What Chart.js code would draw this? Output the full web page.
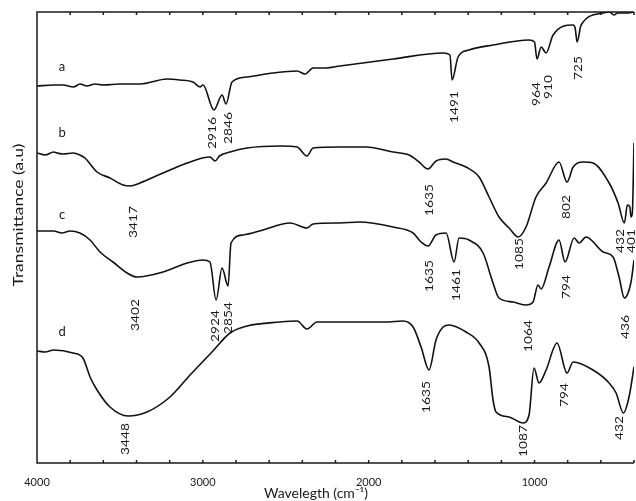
<!DOCTYPE html>
<html>
<head>
<meta charset="utf-8">
<script src="https://cdn.jsdelivr.net/npm/chart.js@4.4.1/dist/chart.umd.min.js"></script>
<style>
  html, body { margin: 0; padding: 0; background: #fff; }
  #wrap { width: 636px; height: 501px; }
</style>
</head>
<body>
<div id="wrap"><canvas id="ftirChart" width="636" height="501"></canvas></div>
<script>
// wavenumbers (cm-1) and transmittance (a.u.), curves a-d offset
const aWn = [4000, 3900, 3843, 3780, 3740, 3700, 3650, 3600, 3500, 3379, 3216, 3138, 3059, 3017, 2999, 2933, 2884, 2860, 2824, 2733, 2577, 2432, 2384, 2335, 2257, 2173, 1853, 1551, 1510, 1497, 1461, 1395, 1250, 1033, 1000, 985, 960, 930, 888, 767, 755, 743, 719, 586, 550, 520, 500, 448, 400];
const aT  = [377, 378, 378, 376, 379, 377, 379, 378, 379, 379, 384, 383, 381, 376, 378, 353, 368, 359, 381, 386, 390, 392, 389, 395, 395, 397, 404, 410, 408, 383, 406, 413, 418, 423, 421, 404, 416, 410, 428, 438, 435, 421, 438, 450, 451, 448, 450, 450, 451];

const bWn = [4000, 3950, 3900, 3879, 3840, 3783, 3741, 3711, 3638, 3560, 3481, 3439, 3379, 3240, 3095, 2957, 2926, 2900, 2836, 2733, 2534, 2432, 2372, 2335, 2173, 2016, 1853, 1756, 1696, 1642, 1594, 1533, 1491, 1413, 1334, 1274, 1214, 1153, 1099, 1051, 991, 930, 852, 804, 767, 707, 647, 550, 496, 458, 440, 425, 418, 410, 400];
const bT  = [310, 308, 311, 310, 309, 310, 308, 305, 291, 285, 278, 277, 280, 290, 300, 306, 302, 307, 311, 315, 317, 316, 307, 315, 316, 316, 311, 308, 301, 294, 302, 304, 301, 296, 286, 266, 246, 235, 226, 236, 266, 280, 301, 281, 296, 301, 300, 280, 260, 240, 258, 256, 246, 250, 320];

const cWn = [4000, 3900, 3850, 3801, 3741, 3680, 3620, 3542, 3457, 3397, 3240, 3095, 2999, 2957, 2920, 2884, 2848, 2830, 2758, 2637, 2474, 2372, 2335, 2173, 2058, 1853, 1732, 1684, 1642, 1594, 1533, 1485, 1455, 1395, 1310, 1250, 1214, 1129, 1051, 1009, 979, 960, 912, 852, 816, 761, 731, 689, 586, 526, 490, 458, 418, 400];
const cT  = [232, 232, 230, 232, 230, 223, 211, 201, 190, 186, 191, 200, 203, 201, 163, 195, 177, 220, 228, 233, 240, 235, 239, 240, 241, 236, 230, 221, 217, 228, 230, 201, 225, 223, 210, 180, 165, 161, 158, 161, 178, 174, 196, 223, 201, 225, 220, 226, 211, 206, 186, 165, 181, 203];

const dWn = [4000, 3950, 3900, 3783, 3723, 3680, 3638, 3560, 3451, 3337, 3198, 3077, 2945, 2836, 2733, 2534, 2432, 2372, 2311, 2173, 2058, 1900, 1793, 1732, 1684, 1636, 1594, 1551, 1515, 1413, 1334, 1274, 1250, 1232, 1153, 1069, 1033, 1003, 973, 930, 864, 804, 767, 647, 550, 508, 464, 430, 400];
const dT  = [112, 111, 113, 110, 105, 86, 73, 56, 47, 51, 66, 88, 111, 130, 137, 141, 142, 134, 141, 141, 141, 141, 142, 136, 116, 93, 123, 136, 138, 131, 120, 96, 63, 51, 46, 40, 48, 95, 80, 93, 120, 90, 101, 93, 80, 70, 50, 66, 96];

const xTicks = [4000, 3000, 2000, 1000];

// peak labels: text, wavenumber, height
const peakText = ['2916', '2846', '1491', '964', '910', '725', '3417', '1635', '1085', '802', '432', '401', '3402', '2924', '2854', '1635', '1461', '1064', '794', '436', '3448', '1635', '1087', '794', '432'];
const peakWn   = [2939, 2848, 1485, 991, 918, 737, 3421, 1636, 1093, 810, 484, 418, 3409, 2926, 2848, 1636, 1473, 1039, 810, 454, 3469, 1654, 1069, 822, 490];
const peakT    = [330, 335, 356, 369, 376, 395, 241, 263, 209, 256, 222, 222, 148, 137, 145, 187, 178, 127, 176, 136, 24, 66, 22, 68, 35];

const curveNames = ['a', 'b', 'c', 'd'];
const curveNameT = [396, 330, 248, 131];

function pts(wn, t) {
  return wn.map((w, i) => ({ x: w, y: t[i] }));
}

const FONT = 'Lato, "Open Sans", sans-serif';

// vertical text in the picture is stretched along its length
function vText(ctx, text, px, py) {
  ctx.save();
  ctx.translate(px, py);
  ctx.rotate(-Math.PI / 2);
  ctx.scale(1.25, 1);
  ctx.fillText(text, 0, 0);
  ctx.restore();
}

const decor = {
  id: 'decor',
  afterDatasetsDraw(chart) {
    const { ctx, chartArea, scales } = chart;
    const { left, right, top, bottom } = chartArea;
    const x = scales.x, y = scales.y;
    ctx.save();
    ctx.strokeStyle = '#1a1a1a';
    ctx.lineWidth = 1.5;
    ctx.beginPath();
    ctx.moveTo(right, top);
    ctx.lineTo(left, top);
    ctx.lineTo(left, bottom);
    ctx.lineTo(right, bottom);
    // inward ticks every 200 cm-1
    for (let w = 400; w <= 4000; w += 200) {
      const px = x.getPixelForValue(w);
      ctx.moveTo(px, bottom);
      ctx.lineTo(px, bottom - 3);
      ctx.moveTo(px, top);
      ctx.lineTo(px, top + 3);
    }
    ctx.stroke();

    ctx.fillStyle = '#1a1a1a';
    ctx.textAlign = 'center';
    ctx.textBaseline = 'middle';
    ctx.font = '11px ' + FONT;
    peakText.forEach((t, i) => {
      vText(ctx, t, x.getPixelForValue(peakWn[i]), y.getPixelForValue(peakT[i]));
    });

    ctx.font = '13px ' + FONT;
    curveNames.forEach((n, i) => {
      ctx.fillText(n, x.getPixelForValue(3849), y.getPixelForValue(curveNameT[i]));
    });

    // axis titles
    ctx.font = '14px ' + FONT;
    ctx.fillText('Wavelegth (cm\u207B\u00B9)', 316, 493);
    vText(ctx, 'Transmittance (a.u)', 18, 215);
    ctx.restore();
  }
};

const lineStyle = {
  borderColor: '#111',
  borderWidth: 1.6,
  pointRadius: 0,
  fill: false,
  cubicInterpolationMode: 'monotone'
};

new Chart(document.getElementById('ftirChart').getContext('2d'), {
  type: 'line',
  data: {
    datasets: [
      Object.assign({ label: 'a', data: pts(aWn, aT) }, lineStyle),
      Object.assign({ label: 'b', data: pts(bWn, bT) }, lineStyle),
      Object.assign({ label: 'c', data: pts(cWn, cT) }, lineStyle),
      Object.assign({ label: 'd', data: pts(dWn, dT) }, lineStyle)
    ]
  },
  options: {
    responsive: false,
    animation: false,
    devicePixelRatio: 1,
    layout: { padding: { top: 12, right: 2, left: 0, bottom: 0 } },
    plugins: {
      legend: { display: false },
      tooltip: { enabled: false }
    },
    scales: {
      x: {
        type: 'linear',
        reverse: true,
        min: 400,
        max: 4000,
        afterBuildTicks: s => { s.ticks = xTicks.map(v => ({ value: v })); },
        afterFit: s => { s.height = 38; },
        grid: { display: false },
        border: { display: false },
        ticks: { color: '#1a1a1a', font: { size: 11, family: FONT }, padding: 5, maxRotation: 0, callback: v => String(v) }
      },
      y: {
        min: 0,
        max: 451,
        afterFit: s => { s.width = 37; },
        grid: { display: false },
        border: { display: false },
        ticks: { display: false }
      }
    }
  },
  plugins: [decor]
});
</script>
</body>
</html>
